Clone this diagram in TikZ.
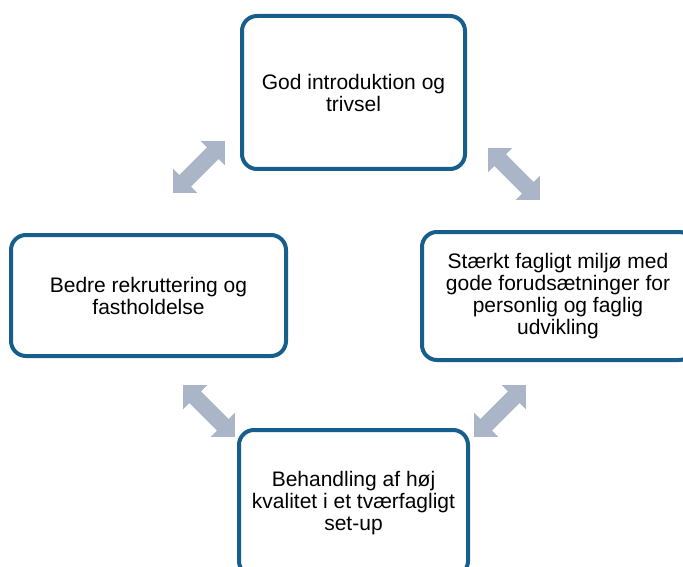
\documentclass[tikz,border=0pt]{standalone}
\usepackage{fontspec}
\setmainfont{Liberation Sans}
\usetikzlibrary{shapes.arrows}
\definecolor{boxblue}{RGB}{24,94,140}
\definecolor{arrowgrey}{RGB}{170,182,199}

\begin{document}
\begin{tikzpicture}[x=1pt, y=-1pt,
		box/.style={draw=boxblue, line width=4pt, rounded corners=15pt, fill=white,
			align=center, inner sep=0pt, font=\fontsize{21}{22}\selectfont},
		twoway/.style={double arrow, fill=arrowgrey, inner xsep=0pt, inner ysep=8pt,
			minimum height=73.5pt, minimum width=34pt,
			double arrow head extend=9pt, double arrow tip angle=90}]
		\clip (0,0) rectangle (683,567);
		
		\node[box, minimum width=223pt, minimum height=153pt] (intro) at (353.5,92.5)
			{God introduktion og\\trivsel};
		
		\node[box, minimum width=275pt, minimum height=121pt] (rekrut) at (148.5,295.5)
			{Bedre rekruttering og\\fastholdelse};
		\node[box, minimum width=272pt, minimum height=128pt] (miljo) at (558,296)
			{Stærkt fagligt miljø med\\gode forudsætninger for\\personlig og faglig\\udvikling};
		
		\node[box, minimum width=229pt, minimum height=146pt] (behand) at (353.5,503)
			{Behandling af høj\\kvalitet i et tværfagligt\\set-up};
		
		%========================================================================
		% Arrows
		\node[twoway, rotate=45] (a1) at (199,167) {};
		\node[twoway, rotate=-45] (a2) at (514,174) {};
		\node[twoway, rotate=-45] (a3) at (209,411) {};
		\node[twoway, rotate=45] (a4) at (500,411) {};
	\end{tikzpicture}
\end{document}
